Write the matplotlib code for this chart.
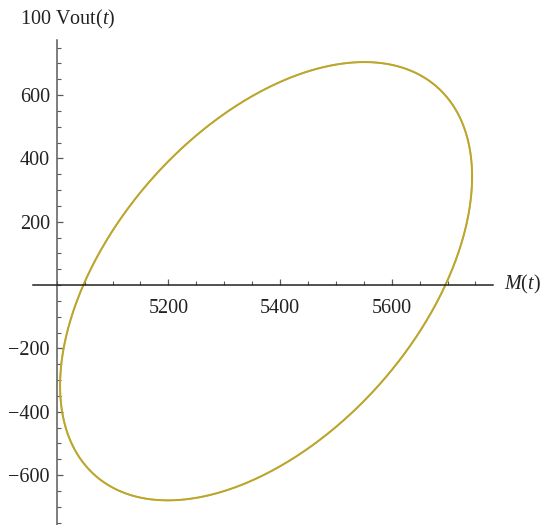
import numpy as np
import matplotlib.pyplot as plt
from matplotlib.ticker import FixedLocator

plt.rcParams['font.family'] = 'Liberation Serif'
plt.rcParams['mathtext.fontset'] = 'custom'
plt.rcParams['mathtext.rm'] = 'Liberation Serif'
plt.rcParams['mathtext.it'] = 'Liberation Serif:italic'

# M(t) = m_center + m_amp*cos(t),  100 Vout(t) = v_center + v_amp*cos(t - phase)
m_center = 5375.0
m_amp = 369.0
v_center = 12.0
v_amp = 692.0
phase = np.deg2rad(61.5)

x_ticks = [5200, 5400, 5600]
y_ticks = [-600, -400, -200, 200, 400, 600]
x_minor = np.arange(5000, 5751, 50)
y_minor = np.arange(-750, 751, 50)

t = np.linspace(0, 2 * np.pi, 800)
m = m_center + m_amp * np.cos(t)
v = v_center + v_amp * np.cos(t - phase)

fig = plt.figure(figsize=(5.44, 5.25), dpi=100)
ax = fig.add_axes([0, 0, 1, 1])
ax.set_xlim(4898.4, 5872.8)
ax.set_ylim(-757.8, 900)

# same curve twice, green under orange
ax.plot(m, v, color='#8FB032', lw=1.4)
ax.plot(m, v, color='#E19C24', lw=1.2, alpha=0.65)

axis_col = '#5a5a5a'
for s in ['top', 'right']:
    ax.spines[s].set_visible(False)
ax.spines['left'].set_position(('data', 5000))
ax.spines['bottom'].set_position(('data', 0))
ax.spines['left'].set_bounds(-760, 774)
ax.spines['bottom'].set_bounds(4958, 5781)
for s in ['left', 'bottom']:
    ax.spines[s].set_color(axis_col)
    ax.spines[s].set_linewidth(1.1)
ax.spines['bottom'].set_color('#222222')

ax.xaxis.set_major_locator(FixedLocator(x_ticks))
ax.yaxis.set_major_locator(FixedLocator(y_ticks))
ax.xaxis.set_minor_locator(FixedLocator(x_minor))
ax.yaxis.set_minor_locator(FixedLocator(y_minor))
ax.set_xticklabels([str(x) for x in x_ticks])
ax.set_yticklabels([str(y).replace('-', '\u2212') for y in y_ticks])
ax.tick_params(which='major', direction='in', length=4.3, width=0.9,
               color=axis_col, labelsize=14.5, labelcolor='#222222', pad=5)
ax.tick_params(which='minor', direction='in', length=2.6, width=0.8,
               color=axis_col)
ax.tick_params(axis='x', which='major', pad=10)

fig.text(20 / 544, 1 - 19 / 525, '100 Vout($t$)', fontsize=14.5,
         color='#222222', va='center', ha='left')
fig.text(504 / 544, 1 - 284 / 525, '$M$($t$)', fontsize=14.5,
         color='#222222', va='center', ha='left')

fig.savefig('out.png', dpi=100)
